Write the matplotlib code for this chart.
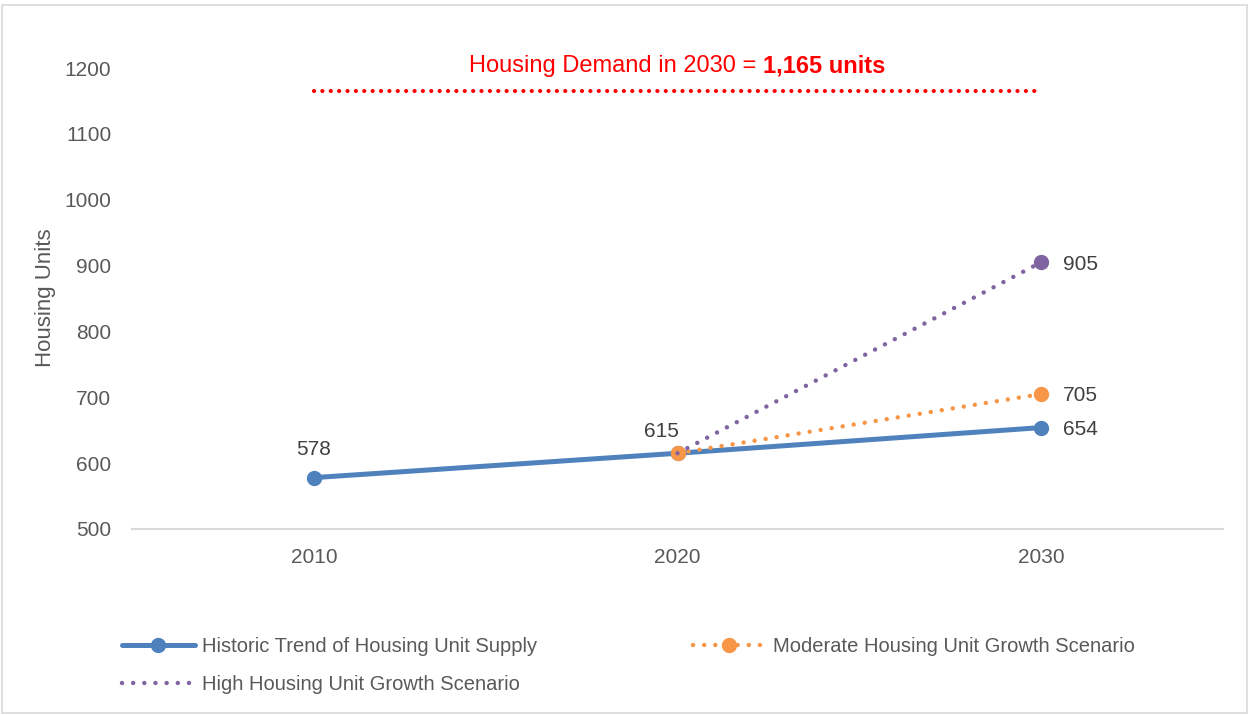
import matplotlib.pyplot as plt
from matplotlib.patches import Rectangle

years = ['2010', '2020', '2030']
historic = [578, 615, 654]
moderate = [615, 705]
high = [615, 905]
demand_2030 = 1165
yticks = [500, 600, 700, 800, 900, 1000, 1100, 1200]

plt.rcParams['font.family'] = ['Liberation Sans Narrow', 'Liberation Sans', 'DejaVu Sans']

blue = '#4F81BD'
orange = '#F79646'
purple = '#8064A2'
dots = (0, (0.01, 2.5))

fig = plt.figure(figsize=(12.5, 7.15), dpi=100)
ax = fig.add_axes([132 / 1250, 1 - 529 / 715, (1223 - 132) / 1250, (529 - 68) / 715])

x = list(range(len(years)))

# demand line
ax.plot([x[0], x[-1]], [demand_2030, demand_2030], color='red', lw=3.0,
        linestyle=(0, (0.01, 2.0)), dash_capstyle='round', zorder=2)
ax.text(1.235, 1203, 'Housing Demand in 2030 = ', color='red', fontsize=17,
        ha='right', va='center')
ax.text(1.235, 1203, '1,165 units', color='red', fontsize=17, fontweight='bold',
        ha='left', va='center')

l_hist, = ax.plot(x, historic, color=blue, lw=3.6, marker='o', markersize=10,
                  solid_capstyle='round', zorder=3,
                  label='Historic Trend of Housing Unit Supply')
l_high, = ax.plot(x[1:], high, color=purple, lw=3.2, linestyle=dots,
                  dash_capstyle='round', zorder=5,
                  label='High Housing Unit Growth Scenario')
ax.plot(x[-1], high[-1], 'o', color=purple, markersize=10, zorder=6)
l_mod, = ax.plot(x[1:], moderate, color=orange, lw=3.2, linestyle=dots,
                 dash_capstyle='round', marker='o', markersize=10, zorder=4,
                 label='Moderate Housing Unit Growth Scenario')

# data labels
lab_kw = dict(fontsize=15, color='#404040', va='center')
ax.annotate(str(historic[0]), (x[0], historic[0]), xytext=(0, 28),
            textcoords='offset pixels', ha='center', **lab_kw)
ax.annotate(str(historic[1]), (x[1], historic[1]), xytext=(-16, 22),
            textcoords='offset pixels', ha='center', **lab_kw)
ax.annotate(str(historic[2]), (x[2], historic[2]), xytext=(22, -2),
            textcoords='offset pixels', ha='left', **lab_kw)
ax.annotate(str(moderate[1]), (x[2], moderate[1]), xytext=(22, -2),
            textcoords='offset pixels', ha='left', **lab_kw)
ax.annotate(str(high[1]), (x[2], high[1]), xytext=(22, -2),
            textcoords='offset pixels', ha='left', **lab_kw)

ax.set_xlim(-0.5, 2.5)
ax.set_ylim(500, 1200)
ax.set_xticks(x)
ax.set_xticklabels(years)
ax.set_yticks(yticks)
ax.tick_params(axis='both', length=0, labelsize=15, labelcolor='#595959')
ax.tick_params(axis='y', pad=15)
ax.tick_params(axis='x', pad=14)
for s in ['top', 'right', 'left']:
    ax.spines[s].set_visible(False)
ax.spines['bottom'].set_color('#D9D9D9')
ax.spines['bottom'].set_linewidth(1.5)
ax.patch.set_visible(False)

fig.text(45 / 1250, 1 - 298 / 715, 'Housing Units', rotation=90, fontsize=16,
         color='#595959', ha='center', va='center')

leg_kw = dict(loc='upper left', frameon=False, fontsize=14.5, labelcolor='#595959',
              handlelength=3.6, handletextpad=0.35, labelspacing=0.95)
fig.legend([l_hist, l_high], [l_hist.get_label(), l_high.get_label()],
           bbox_to_anchor=(104 / 1250, 1 - 619 / 715), **leg_kw)
fig.legend([l_mod], [l_mod.get_label()],
           bbox_to_anchor=(675 / 1250, 1 - 619 / 715), **leg_kw)

fig.add_artist(Rectangle((2 / 1250, 2 / 715), 1245 / 1250, 708 / 715,
                         transform=fig.transFigure, fill=False,
                         edgecolor='#D9D9D9', lw=1.2))

fig.savefig('out.png', dpi=100)
